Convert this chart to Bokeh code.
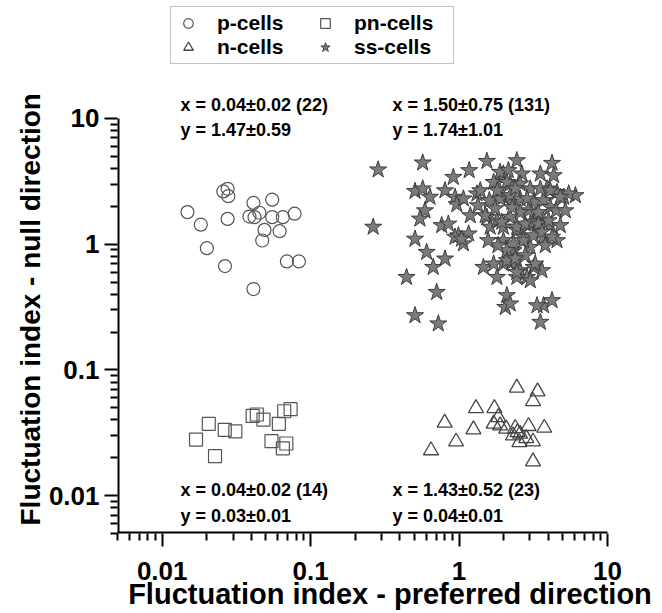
from bokeh.plotting import figure
from bokeh.models import FixedTicker, CustomJSTickFormatter, Legend, LegendItem, Title
from bokeh.core.properties import value
from bokeh.embed import file_html
from bokeh.resources import INLINE

FONT = "Liberation Sans"

# ---- data ----
p_x = [0.0148, 0.0182, 0.0200, 0.0265, 0.0258, 0.0276, 0.0279, 0.0276, 0.0412, 0.0551, 0.0387,
       0.0419, 0.0452, 0.0551, 0.0650, 0.0780, 0.0489, 0.0618, 0.0472, 0.0692, 0.0834, 0.0412]
p_y = [1.80, 1.43, 0.93, 0.67, 2.63, 2.76, 2.41, 1.59, 2.13, 2.26, 1.66,
       1.64, 1.78, 1.64, 1.64, 1.75, 1.30, 1.27, 1.07, 0.73, 0.73, 0.44]

pn_x = [0.0169, 0.0206, 0.0227, 0.0264, 0.0311, 0.0407, 0.0434, 0.0481, 0.0611, 0.0664,
        0.0733, 0.0545, 0.0650, 0.0686]
pn_y = [0.0279, 0.0373, 0.0206, 0.0334, 0.0324, 0.0431, 0.0442, 0.0403, 0.0373, 0.0469,
        0.0487, 0.0271, 0.0238, 0.0260]

n_x = [2.45, 3.38, 3.15, 1.30, 1.73, 1.84, 1.71, 0.80, 1.25, 2.08, 2.39, 2.94,
       3.75, 2.31, 2.58, 0.955, 2.55, 3.15, 0.647, 3.15, 2.48, 2.84, 1.89]
n_y = [0.0721, 0.0673, 0.0564, 0.0496, 0.0496, 0.0420, 0.0373, 0.0380, 0.0336, 0.0340, 0.0344, 0.0357,
       0.0346, 0.0301, 0.0310, 0.0269, 0.0266, 0.0269, 0.0229, 0.0187, 0.0319, 0.0286, 0.0361]

ss_x = [0.285, 0.569, 1.17, 1.54, 2.45, 4.23, 0.915, 0.505, 0.569, 0.637,
        0.804, 0.94, 0.965, 1.07, 1.32, 1.60, 1.80, 1.99, 2.21, 2.65,
        3.02, 3.53, 4.34, 3.91, 4.57, 5.07, 6.08, 5.48, 1.99, 2.27,
        2.58, 3.18, 3.71, 4.12, 0.589, 0.545, 0.264, 0.764, 0.847, 0.505,
        0.99, 1.07, 1.16, 1.54, 1.62, 1.80, 1.99, 2.21, 2.45, 2.72,
        3.02, 3.35, 3.71, 4.12, 4.81, 4.57, 3.71, 3.02, 1.99, 2.33,
        0.605, 0.804, 0.670, 0.443, 1.46, 1.80, 1.99, 2.27, 2.58, 2.87,
        3.18, 3.62, 2.45, 0.707, 2.10, 2.05, 2.21, 3.71, 4.23, 0.505,
        0.725, 3.53,
        1.89, 2.15, 1.71, 2.10, 2.58, 1.39, 1.89, 2.21, 2.87, 1.50,
        1.94, 2.45, 2.79, 3.18, 0.94, 1.04, 2.33, 2.72, 3.18, 2.10,
        1.71, 2.10, 2.45, 3.35,
        3.53, 4.12, 4.81, 3.43, 4.01, 3.62, 4.23, 3.26,
        1.81, 2.39, 2.93, 3.42, 1.75, 2.58, 3.81, 2.79, 2.39, 1.83,
        1.57, 3.02, 1.34, 2.28, 4.52, 5.20, 1.19]
ss_y = [3.91, 4.44, 3.86, 4.57, 4.63, 4.41, 3.41, 2.64, 2.76, 2.37,
        2.67, 2.37, 2.07, 2.30, 2.52, 2.23, 3.11, 3.63, 3.02, 3.63,
        2.76, 3.63, 3.52, 2.76, 2.59, 2.37, 2.44, 2.52, 2.37, 2.16,
        2.30, 2.16, 2.23, 1.97, 1.85, 1.59, 1.37, 1.41, 1.45, 1.10,
        1.17, 1.01, 1.21, 1.64, 1.37, 1.54, 1.37, 1.64, 1.29, 1.14,
        1.45, 1.29, 1.54, 1.41, 1.41, 1.07, 1.14, 0.947, 1.07, 0.891,
        0.864, 0.765, 0.656, 0.546, 0.656, 0.546, 0.698, 0.719, 0.618, 0.546,
        0.656, 0.618, 0.546, 0.415, 0.391, 0.315, 0.336, 0.325, 0.357, 0.271,
        0.233, 0.240,
        3.74, 3.86, 3.11, 3.11, 3.02, 2.67, 2.30, 2.44, 2.30, 1.69,
        1.50, 1.37, 1.45, 1.50, 1.14, 1.10, 1.01, 1.07, 1.17, 0.891,
        0.698, 0.742, 0.599, 0.325,
        2.76, 2.67, 2.37, 1.45, 1.54, 1.25, 1.14, 0.698,
        2.67, 2.77, 1.85, 1.79, 1.92, 1.79, 0.977, 0.813, 0.769, 0.977,
        1.07, 0.514, 2.03, 1.96, 1.85, 1.85, 1.69]

ann_text = ["x = 0.04\u00b10.02  (22)", "y = 1.47\u00b10.59",
            "x = 1.50\u00b10.75  (131)", "y = 1.74\u00b11.01",
            "x = 0.04\u00b10.02  (14)", "y = 0.03\u00b10.01",
            "x = 1.43\u00b10.52  (23)", "y = 0.04\u00b10.01"]
ann_x = [0.0133, 0.0133, 0.356, 0.356, 0.0133, 0.0133, 0.356, 0.356]
ann_y = [12.9, 8.03, 12.9, 8.03, 0.0110, 0.00683, 0.0110, 0.00683]

major_ticks = [0.01, 0.1, 1, 10]
minor_ticks = [m * 10.0 ** e for e in (-3, -2, -1, 0) for m in range(2, 10)]
minor_ticks = [t for t in minor_ticks if 0.0049 <= t <= 10]
axis_lo, axis_hi = 0.005, 10

x_title = "Fluctuation index - preferred direction"
y_title = "Fluctuation index - null direction"

# ---- figure ----
p = figure(width=662, height=613, x_axis_type="log", y_axis_type="log",
           x_range=(axis_lo, 23.48), y_range=(axis_lo, 86.8),
           output_backend="svg", toolbar_location=None,
           min_border_left=117, min_border_right=0, min_border_top=0, min_border_bottom=80)
p.outline_line_color = None
p.xgrid.visible = False
p.ygrid.visible = False
p.background_fill_color = "white"
p.border_fill_color = "white"

# axis lines limited to the labelled decades (0.005 .. 10)
p.segment(x0=[axis_lo, axis_lo], y0=[axis_lo, axis_lo], x1=[axis_hi, axis_lo], y1=[axis_lo, axis_hi],
          line_color="black", line_width=4)

r_p = p.scatter(p_x, p_y, marker="circle", size=13, fill_color=None,
                line_color="#555555", line_width=1.2)
r_pn = p.scatter(pn_x, pn_y, marker="square", size=13, fill_color=None,
                 line_color="#555555", line_width=1.2)
r_n = p.scatter(n_x, n_y, marker="triangle", size=15, fill_color=None,
                line_color="#444444", line_width=1.3)
r_ss = p.scatter(ss_x, ss_y, marker="star", size=18, fill_color="#7b7b7b",
                 line_color="#3c3c3c", line_width=1)

p.text(x=ann_x, y=ann_y, text=ann_text, text_font=value(FONT), text_font_style="bold",
       text_font_size="18px", text_baseline="middle", text_align="left", text_color="black")

for ax in (p.xaxis[0], p.yaxis[0]):
    ax.ticker = FixedTicker(ticks=major_ticks, minor_ticks=minor_ticks)
    ax.formatter = CustomJSTickFormatter(code="return tick.toString()")
    ax.axis_line_color = None
    ax.major_tick_line_width = 2
    ax.minor_tick_line_width = 2
    ax.major_tick_line_color = "black"
    ax.minor_tick_line_color = "black"
    ax.major_tick_out = 13
    ax.major_tick_in = 0
    ax.minor_tick_out = 7
    ax.minor_tick_in = 0
    ax.major_label_text_font = FONT
    ax.major_label_text_font_style = "bold"
    ax.major_label_text_font_size = "26px"
    ax.major_label_text_color = "black"

p.yaxis.major_label_standoff = 5
p.xaxis.major_label_standoff = 15
p.xaxis.axis_label = x_title
p.xaxis.axis_label_text_font = FONT
p.xaxis.axis_label_text_font_style = "bold"
p.xaxis.axis_label_text_font_size = "29px"
p.xaxis.axis_label_text_color = "black"
p.xaxis.axis_label_text_line_height = 0.6
p.xaxis.axis_label_standoff = -5

ytitle = Title(text=y_title, align="left", offset=8,
               text_font=FONT, text_font_style="bold", text_font_size="28px",
               text_color="black", standoff=0)
p.add_layout(ytitle, "left")

legend = Legend(items=[LegendItem(label="p-cells", renderers=[r_p]),
                       LegendItem(label="n-cells", renderers=[r_n]),
                       LegendItem(label="pn-cells", renderers=[r_pn]),
                       LegendItem(label="ss-cells", renderers=[r_ss])],
                ncols=2)
legend.margin = 0
legend.padding = 4
legend.spacing = 0
legend.glyph_width = 26
legend.glyph_height = 24
legend.label_standoff = 16
legend.label_width = 95
legend.label_text_font = FONT
legend.label_text_font_style = "bold"
legend.label_text_font_size = "21px"
legend.label_text_color = "black"
legend.border_line_color = "#888888"
legend.border_line_width = 1.5
legend.background_fill_color = "white"
legend.background_fill_alpha = 1
legend.location = (53, 469)
p.add_layout(legend)

open("out.html", "w").write(file_html(p, INLINE))
